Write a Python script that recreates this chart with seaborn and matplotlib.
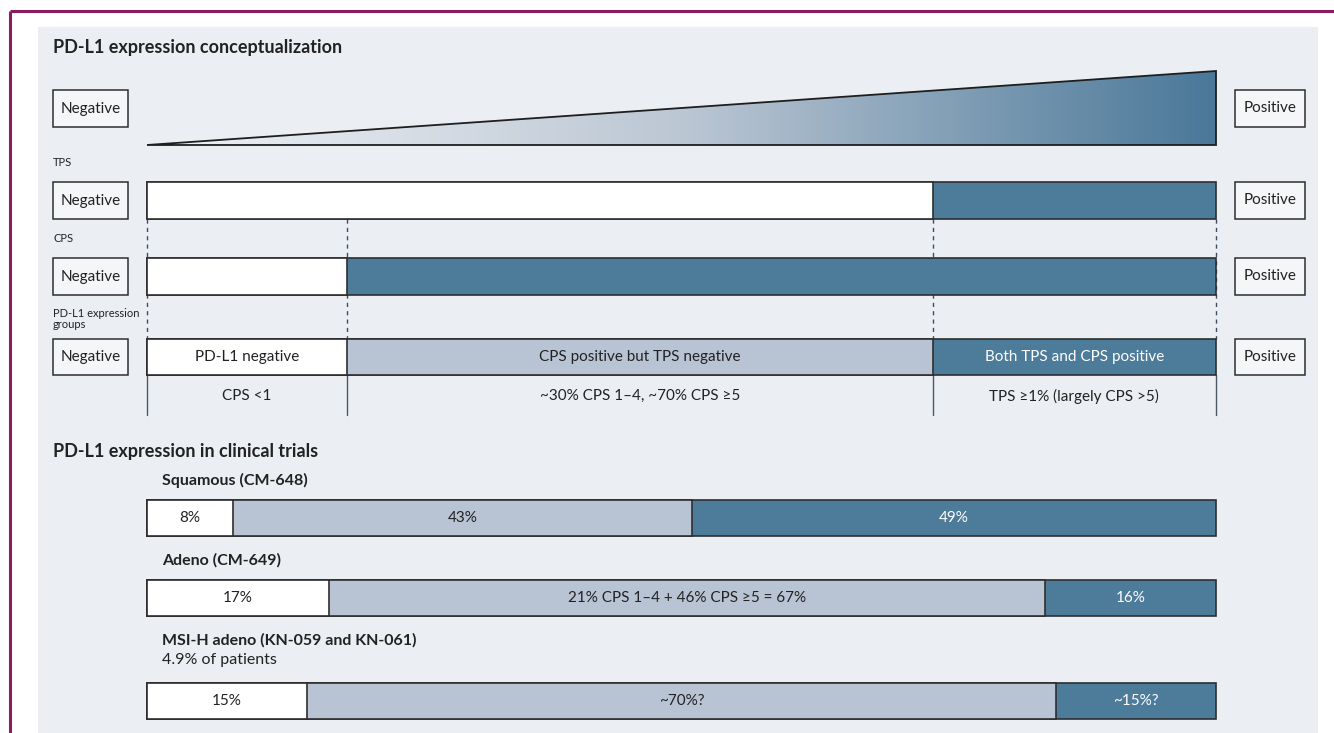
import matplotlib
matplotlib.use('Agg')

import numpy as np
import pandas as pd
import matplotlib.pyplot as plt
import seaborn as sns
from matplotlib.patches import Rectangle, Polygon
from matplotlib.colors import LinearSegmentedColormap

# conceptual scale (share of the bar width, %)
tps_segments = [73.5, 26.5]
cps_segments = [18.7, 81.3]
group_segments = [18.7, 54.8, 26.5]
group_labels = ['PD-L1 negative', 'CPS positive but TPS negative', 'Both TPS and CPS positive']
group_notes = ['CPS <1', '~30% CPS 1\u20134, ~70% CPS \u22655', 'TPS \u22651% (largely CPS >5)']

# clinical trials (% of patients)
trial_names = ['Squamous (CM-648)', 'Adeno (CM-649)', 'MSI-H adeno (KN-059 and KN-061)']
trial_notes = ['', '', '4.9% of patients']
trial_values = [[8, 43, 49], [17, 67, 16], [15, 70, 15]]
trial_labels = [['8%', '43%', '49%'],
                ['17%', '21% CPS 1\u20134 + 46% CPS \u22655 = 67%', '16%'],
                ['15%', '~70%?', '~15%?']]

W, H = 1334, 733
BAR_L, BAR_R = 147, 1216
WHITE, LIGHT, DARK = '#FFFFFF', '#B8C4D3', '#4D7B9A'
EDGE = '#2E2E2E'
TXT = '#222222'

sns.set_theme(style='white')
plt.rcParams['font.family'] = ['Lato', 'DejaVu Sans']

fig = plt.figure(figsize=(W / 100, H / 100), dpi=100)
fig.patch.set_facecolor('white')

# background / decoration layer in pixel units
bg = fig.add_axes([0, 0, 1, 1])
bg.set_xlim(0, W)
bg.set_ylim(H, 0)
bg.axis('off')
bg.add_patch(Rectangle((38, 27), 1280, H - 27, facecolor='#EBEFF3', edgecolor='none'))
bg.plot([10, W], [11, 11], color='#8C1C5E', lw=2.2, solid_capstyle='butt')
bg.plot([10, 10], [11, H], color='#8C1C5E', lw=2.2, solid_capstyle='butt')


def side_box(x, y, w, h, label):
    bg.add_patch(Rectangle((x, y), w, h, facecolor='#F4F6F8', edgecolor=EDGE, lw=1.1))
    bg.text(x + w / 2, y + h / 2, label, ha='center', va='center', fontsize=11, color=TXT)


def bar_row(top, height, values, colors, labels=None, text_colors=None, fs=11):
    ax = fig.add_axes([BAR_L / W, 1 - (top + height) / H, (BAR_R - BAR_L) / W, height / H])
    ax.patch.set_visible(False)
    cum = np.cumsum(values)
    segs = ['s%d' % i for i in range(len(values))]
    df = pd.DataFrame({'row': 'r', 'segment': segs, 'cum': cum})
    sns.barplot(data=df, x='cum', y='row', hue='segment', hue_order=segs[::-1],
                palette=dict(zip(segs, colors)), dodge=False, width=1, saturation=1,
                edgecolor=EDGE, linewidth=1.2, legend=False, errorbar=None, ax=ax)
    ax.set_xlim(0, 100)
    ax.set_ylim(0.5, -0.5)
    ax.axis('off')
    for p in ax.patches:
        p.set_clip_on(False)
    if labels:
        starts = cum - np.array(values)
        for s, v, lab, c in zip(starts, values, labels, text_colors):
            ax.text(s + v / 2, 0, lab, ha='center', va='center', fontsize=fs, color=c)
    return ax


# guide layer: x in % of bar width, y in pixels
guide = fig.add_axes([BAR_L / W, 0, (BAR_R - BAR_L) / W, 1])
guide.patch.set_visible(False)
guide.set_xlim(0, 100)
guide.set_ylim(H, 0)
guide.axis('off')
breaks = [0] + list(np.cumsum(group_segments))
for b in breaks:
    guide.plot([b, b], [219, 339], color='#3E4E5E', lw=1, ls=(0, (3, 3)), clip_on=False)
    guide.plot([b, b], [375, 415], color='#4A5866', lw=1, clip_on=False)
gcum = np.cumsum(group_segments)
for s, v, note in zip(gcum - np.array(group_segments), group_segments, group_notes):
    guide.text(s + v / 2, 396, note, ha='center', va='center', fontsize=11, color=TXT)

# gradient wedge
wedge = fig.add_axes([BAR_L / W, 1 - 145 / H, (BAR_R - BAR_L) / W, 74 / H])
wedge.set_xlim(0, 100)
wedge.set_ylim(0, 1)
wedge.axis('off')
cmap = LinearSegmentedColormap.from_list('grad', ['#F0F3F6', '#BCC7D4', '#4A7899'])
img = wedge.imshow(np.linspace(0, 1, 256)[None, :], cmap=cmap, aspect='auto',
                   extent=[0, 100, 0, 1], origin='lower')
tri = Polygon([(0, 0), (100, 0), (100, 1)], closed=True, facecolor='none',
              edgecolor='#1E1E1E', lw=1.3, clip_on=False)
wedge.add_patch(tri)
img.set_clip_path(tri)

# titles and row labels
bg.text(53, 48, 'PD-L1 expression conceptualization', fontsize=13, fontweight='bold',
        color=TXT, va='center')
bg.text(53, 163, 'TPS', fontsize=8, color=TXT, va='center')
bg.text(53, 239, 'CPS', fontsize=8, color=TXT, va='center')
bg.text(53, 319, 'PD-L1 expression\ngroups', fontsize=8, color=TXT, va='center',
        linespacing=1.05)
bg.text(53, 452, 'PD-L1 expression in clinical trials', fontsize=13, fontweight='bold',
        color=TXT, va='center')

for y, h in [(90, 37), (182, 37), (258, 37), (339, 36)]:
    side_box(53, y, 75, h, 'Negative')
    side_box(1235, y, 70, h, 'Positive')

bar_row(182, 37, tps_segments, [WHITE, DARK])
bar_row(258, 37, cps_segments, [WHITE, DARK])
bar_row(339, 36, group_segments, [WHITE, LIGHT, DARK], group_labels, [TXT, TXT, 'white'])

trial_tops = [500, 580, 683]
name_y = [480, 560, 640]
for name, note, vals, labs, top, ny in zip(trial_names, trial_notes, trial_values,
                                           trial_labels, trial_tops, name_y):
    bg.text(162, ny, name, fontsize=11.5, fontweight='bold', color=TXT, va='center')
    if note:
        bg.text(162, ny + 20, note, fontsize=11.5, color=TXT, va='center')
    bar_row(top, 36, vals, [WHITE, LIGHT, DARK], labs, [TXT, TXT, 'white'])

fig.savefig('out.png', dpi=100)
